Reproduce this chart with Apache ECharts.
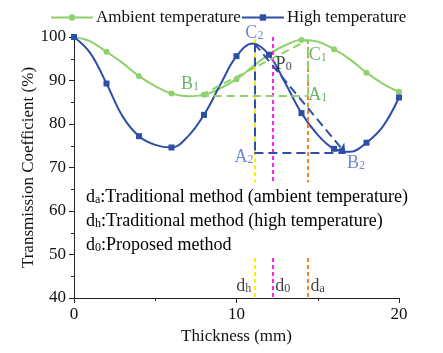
<!DOCTYPE html>
<html>
<head>
<meta charset="utf-8">
<script src="https://cdn.jsdelivr.net/npm/echarts@6/dist/echarts.min.js"></script>
<style>
  html, body { margin: 0; padding: 0; background: #fff; }
  #chart { width: 443px; height: 353px; }
</style>
</head>
<body>
<div id="chart"></div>
<script>
// values, one point per mm (markers every 2 mm)
var thickness = [0, 1, 2, 3, 4, 5, 6, 7, 8, 9, 10, 11, 12, 13, 14, 15, 16, 17, 18, 19, 20];
var ambient = [100, 99.0, 96.6, 94.0, 91.0, 88.7, 87.0, 86.4, 86.7, 88.2, 90.3, 93.2, 96.0, 98.1, 99.3, 98.9, 97.2, 94.8, 91.8, 89.3, 87.4];
var high = [100, 96.3, 89.3, 81.7, 77.2, 75.2, 74.6, 77.1, 82.1, 89.0, 95.6, 98.5, 95.9, 89.4, 82.5, 77.5, 74.3, 73.6, 75.7, 79.4, 86.1];

// construction points
var B1 = [7.8, 86.6], A1 = [14.4, 86.6], C1 = [14.4, 99.3];
var C2 = [11.1, 98.5], A2 = [11.1, 73.3], B2 = [16.7, 73.3];

// thickness picks
var dh = 11.1, d0 = 12.2, da = 14.4;
var gapTop = 66.6, gapBottom = 49.2;

var font = 'Liberation Serif';
var green = '#8fd16b';
var blue = '#2f4fa6';
var greenText = '#44a044';
var blueText = '#4d6bbd';

function curve(ys) {
  return thickness.map(function (x, i) {
    return { value: [x, ys[i]], symbol: x % 2 === 0 ? undefined : 'none' };
  });
}

function seg(p, q, color, width, dash, endSym) {
  return [
    { coord: p, symbol: 'none', lineStyle: { color: color, width: width, type: dash } },
    { coord: q, symbol: endSym || 'none' }
  ];
}

var subRich = {
  m: { fontFamily: font, fontSize: 18, lineHeight: 18, verticalAlign: 'top' },
  s: { fontFamily: font, fontSize: 12, lineHeight: 12, verticalAlign: 'bottom', padding: [10, 0, 0, 0] }
};

function richFor(color) {
  return {
    m: Object.assign({}, subRich.m, { color: color }),
    s: Object.assign({}, subRich.s, { color: color })
  };
}

var labels = [
  { name: 'B|1', value: [7.14, 89.2], c: greenText },
  { name: 'C|1', value: [15.0, 95.9], c: greenText },
  { name: 'A|1', value: [15.0, 86.7], c: greenText },
  { name: 'C|2', value: [11.1, 100.9], c: blueText },
  { name: 'A|2', value: [10.46, 72.4], c: blueText },
  { name: 'B|2', value: [17.35, 71.0], c: blueText },
  { name: 'P|0', value: [12.9, 93.8], c: '#111' },
  { name: 'd|h', value: [10.45, 42.8], c: '#111' },
  { name: 'd|0', value: [12.85, 42.8], c: '#111' },
  { name: 'd|a', value: [15.0, 42.8], c: '#111' }
];

var chart = echarts.init(document.getElementById('chart'), null, { renderer: 'canvas' });

var axisCommon = {
  axisLine: { show: true, lineStyle: { color: '#222', width: 1 } },
  axisTick: { show: true, length: 5, lineStyle: { color: '#222' } },
  minorTick: { show: true, splitNumber: 2, length: 3, lineStyle: { color: '#222' } },
  splitLine: { show: false },
  axisLabel: { color: '#111', fontFamily: font, fontSize: 17 },
  nameTextStyle: { color: '#111', fontFamily: font, fontSize: 17 },
  nameMoveOverlap: false
};

var option = {
  animation: false,
  legend: {
    top: 4,
    left: 45,
    itemGap: 0,
    itemWidth: 42,
    itemHeight: 8,
    textStyle: { fontFamily: font, fontSize: 17, color: '#111', padding: [0, 0, 0, -2] },
    data: ['Ambient temperature', 'High temperature']
  },
  grid: { left: 74, right: 44, top: 37, bottom: 55 },
  xAxis: Object.assign({}, axisCommon, {
    type: 'value', min: 0, max: 20, interval: 10,
    name: 'Thickness (mm)', nameLocation: 'middle', nameGap: 30
  }),
  yAxis: Object.assign({}, axisCommon, {
    type: 'value', min: 40, max: 100, interval: 10,
    name: 'Transmission Coefficient (%)', nameLocation: 'middle', nameGap: 37
  }),
  graphic: [
    { type: 'text', left: 86, top: 184, style: { text: '{m|d}{s|a}{m|:Traditional method (ambient temperature)}', rich: richFor('#111') } },
    { type: 'text', left: 86, top: 208, style: { text: '{m|d}{s|h}{m|:Traditional method (high temperature)}', rich: richFor('#111') } },
    { type: 'text', left: 86, top: 232, style: { text: '{m|d}{s|0}{m|:Proposed method}', rich: richFor('#111') } }
  ],
  series: [
    {
      name: 'Ambient temperature',
      type: 'line',
      smooth: 0.4,
      data: curve(ambient),
      symbol: 'circle',
      symbolSize: 6,
      itemStyle: { color: green },
      lineStyle: { color: green, width: 2 },
      z: 3
    },
    {
      name: 'High temperature',
      type: 'line',
      smooth: 0.4,
      data: curve(high),
      symbol: 'rect',
      symbolSize: 6,
      itemStyle: { color: blue },
      lineStyle: { color: blue, width: 2 },
      z: 4
    },
    {
      name: 'guides',
      type: 'line',
      data: [],
      silent: true,
      markLine: {
        silent: true,
        symbol: 'none',
        symbolSize: 9,
        label: { show: false },
        animation: false,
        data: [
          seg([dh, 99.5], [dh, gapTop], '#ffee00', 2, [4, 3]),
          seg([dh, gapBottom], [dh, 40], '#ffee00', 2, [4, 3]),
          seg([d0, 100], [d0, gapTop], '#ff22ee', 2, [4, 3]),
          seg([d0, gapBottom], [d0, 40], '#ff22ee', 2, [4, 3]),
          seg([da, 99.3], [da, gapTop], '#ff7f27', 2, [4, 3]),
          seg([da, gapBottom], [da, 40], '#ff7f27', 2, [4, 3]),
          seg(B1, A1, green, 2, [8, 5]),
          seg(A1, C1, green, 2, [8, 5]),
          seg(B1, C1, green, 2, [8, 5]),
          seg(C2, A2, blue, 2, [9, 5]),
          seg(A2, B2, blue, 2, [9, 5]),
          seg(C2, B2, blue, 2, [9, 5], 'arrow')
        ]
      },
      z: 2
    },
    {
      name: 'labels',
      type: 'scatter',
      symbolSize: 0,
      clip: false,
      silent: true,
      data: labels.map(function (l) {
        var parts = l.name.split('|');
        return {
          value: l.value,
          label: {
            show: true,
            position: 'inside',
            formatter: '{m|' + parts[0] + '}{s|' + parts[1] + '}',
            rich: richFor(l.c)
          }
        };
      }),
      z: 5
    }
  ]
};

chart.setOption(option);
</script>
</body>
</html>
